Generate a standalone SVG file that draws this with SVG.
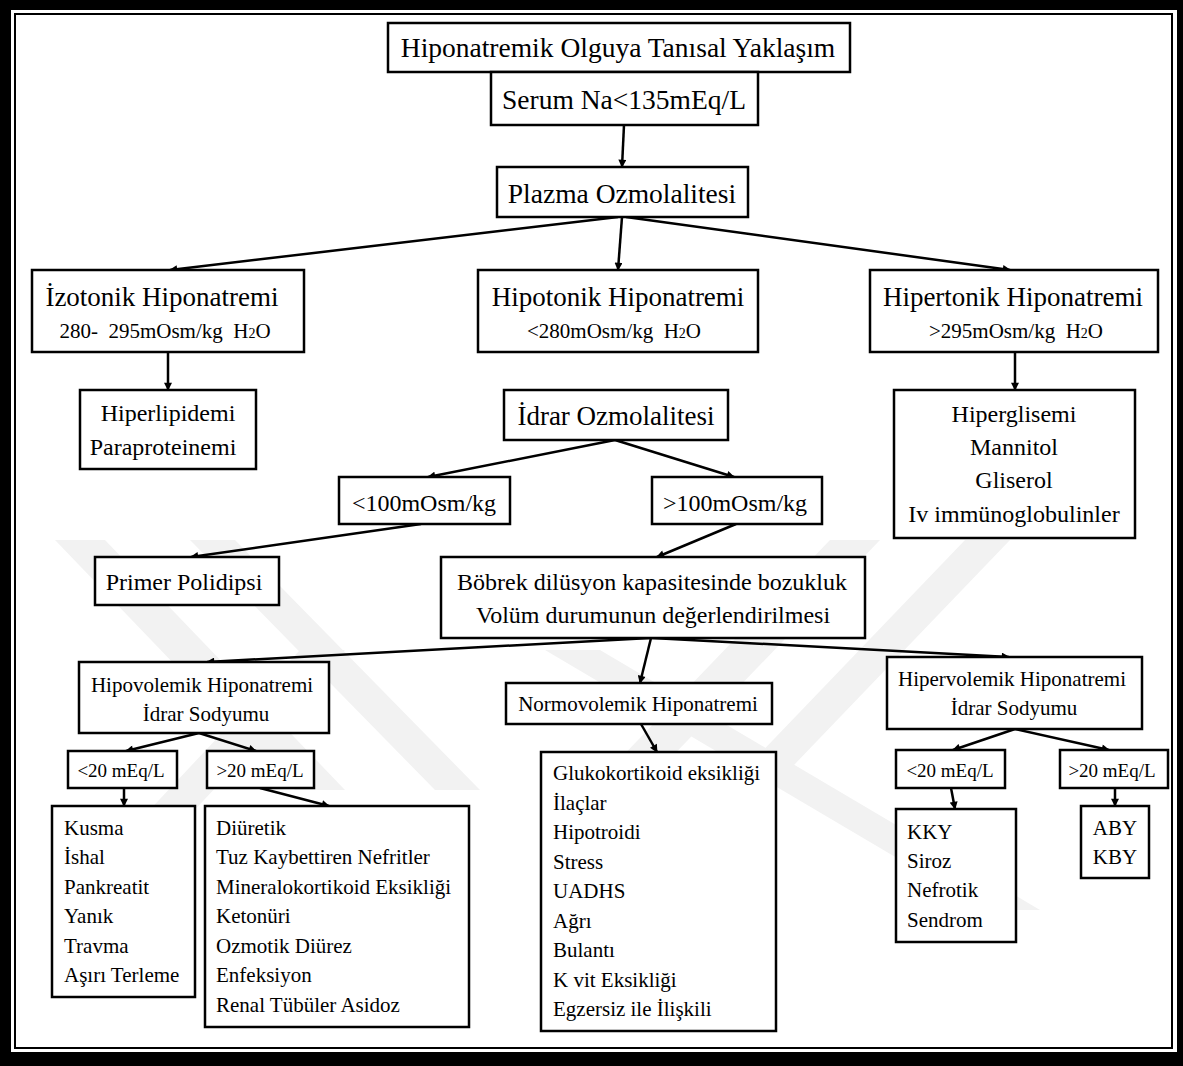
<svg xmlns="http://www.w3.org/2000/svg" width="1183" height="1066" viewBox="0 0 1183 1066">
<defs>
<style>
.box{fill:#fff;stroke:#000;stroke-width:2.5}
.t{font-family:"Liberation Serif","Times New Roman",serif;fill:#000}
.c{text-anchor:middle}
.pre{white-space:pre}
.f28{font-size:27.5px}
.f27{font-size:27px}
.f24{font-size:24px}
.f21{font-size:21px}
.f19{font-size:19px}
.sub{font-size:21px}
.wm{fill:#f2f2f2}
.ed{fill:none;stroke:#000;stroke-width:2.5;marker-end:url(#ah)}
</style>
<marker id="ah" viewBox="0 0 10 10" refX="9" refY="5" markerWidth="9" markerHeight="8" markerUnits="userSpaceOnUse" orient="auto">
<path d="M0,0 L10,5 L0,10 z" fill="#000"/>
</marker>
</defs>
<rect x="0" y="0" width="1183" height="1066" fill="#000"/>
<rect x="11" y="10" width="1166" height="1042" fill="#fff"/>
<rect x="15" y="14" width="1157" height="1034" fill="none" stroke="#000" stroke-width="2"/>
<g id="watermark">
<polygon class="wm" points="55,540 105,540 345,790 295,790"/>
<polygon class="wm" points="190,540 235,540 480,790 435,790"/>
<polygon class="wm" points="830,540 880,540 640,790 590,790"/>
<polygon class="wm" points="965,540 1010,540 770,790 725,790"/>
<polygon class="wm" points="300,650 345,650 110,900 65,900"/>
<polygon class="wm" points="545,650 600,650 1040,910 985,910"/>
</g>
<g id="connectors">
<line class="ed" x1="624" y1="125" x2="622" y2="167"/>
<line class="ed" x1="618" y1="217" x2="170" y2="270"/>
<line class="ed" x1="622" y1="217" x2="618" y2="270"/>
<line class="ed" x1="626" y1="217" x2="1010" y2="270"/>
<line class="ed" x1="168" y1="352" x2="168" y2="390"/>
<line class="ed" x1="1015" y1="352" x2="1015" y2="390"/>
<line class="ed" x1="615" y1="440" x2="428" y2="477"/>
<line class="ed" x1="615" y1="440" x2="734" y2="477"/>
<line class="ed" x1="421" y1="524" x2="191" y2="557"/>
<line class="ed" x1="736" y1="524" x2="657" y2="557"/>
<line class="ed" x1="650" y1="638" x2="207" y2="662"/>
<line class="ed" x1="651" y1="638" x2="640" y2="683"/>
<line class="ed" x1="652" y1="638" x2="1009" y2="657"/>
<line class="ed" x1="199" y1="733" x2="126" y2="751"/>
<line class="ed" x1="199" y1="733" x2="256" y2="751"/>
<line class="ed" x1="124" y1="788" x2="124" y2="806"/>
<line class="ed" x1="260" y1="788" x2="329" y2="806"/>
<line class="ed" x1="641" y1="724" x2="657" y2="752"/>
<line class="ed" x1="1015" y1="729" x2="953" y2="750"/>
<line class="ed" x1="1015" y1="729" x2="1109" y2="750"/>
<line class="ed" x1="951" y1="788" x2="955" y2="809"/>
<line class="ed" x1="1115" y1="788" x2="1115" y2="806"/>
</g>
<g id="n-title"><rect class="box" x="388" y="23" width="462" height="49"/>
<text class="t c f28" x="618" y="57">Hiponatremik Olguya Tanısal Yaklaşım</text></g>
<g id="n-serum"><rect class="box" x="491" y="72" width="267" height="53"/>
<text class="t c f28" x="624" y="109">Serum Na&lt;135mEq/L</text></g>
<g id="n-plazma"><rect class="box" x="497" y="167" width="251" height="50"/>
<text class="t c f28" x="622" y="203">Plazma Ozmolalitesi</text></g>
<g id="n-izotonik"><rect class="box" x="32" y="270" width="272" height="82"/>
<text class="t c f27" x="162" y="306">İzotonik Hiponatremi</text>
<text class="t c sub pre" x="165" y="338">280-  295mOsm/kg  H<tspan font-size="14">2</tspan>O</text></g>
<g id="n-hipotonik"><rect class="box" x="478" y="270" width="280" height="82"/>
<text class="t c f27" x="618" y="306">Hipotonik Hiponatremi</text>
<text class="t c sub pre" x="614" y="338">&lt;280mOsm/kg  H<tspan font-size="14">2</tspan>O</text></g>
<g id="n-hipertonik"><rect class="box" x="870" y="270" width="288" height="82"/>
<text class="t c f27" x="1013" y="306">Hipertonik Hiponatremi</text>
<text class="t c sub pre" x="1016" y="338">&gt;295mOsm/kg  H<tspan font-size="14">2</tspan>O</text></g>
<g id="n-hiperlipidemi"><rect class="box" x="80" y="390" width="176" height="79"/>
<text class="t c f24" x="168" y="421">Hiperlipidemi</text>
<text class="t c f24" x="163" y="455">Paraproteinemi</text></g>
<g id="n-idrar"><rect class="box" x="504" y="390" width="224" height="50"/>
<text class="t c f27" x="616" y="425">İdrar Ozmolalitesi</text></g>
<g id="n-hiperglisemi"><rect class="box" x="894" y="390" width="241" height="148"/>
<text class="t c f24" x="1014" y="422">Hiperglisemi</text>
<text class="t c f24" x="1014" y="455">Mannitol</text>
<text class="t c f24" x="1014" y="488">Gliserol</text>
<text class="t c f24" x="1014" y="522">Iv immünoglobulinler</text></g>
<g id="n-lt100"><rect class="box" x="339" y="477" width="171" height="47"/>
<text class="t c f24" x="424" y="511">&lt;100mOsm/kg</text></g>
<g id="n-gt100"><rect class="box" x="652" y="477" width="170" height="47"/>
<text class="t c f24" x="735" y="511">&gt;100mOsm/kg</text></g>
<g id="n-primer"><rect class="box" x="95" y="557" width="184" height="48"/>
<text class="t c f24" x="184" y="590">Primer Polidipsi</text></g>
<g id="n-bobrek"><rect class="box" x="441" y="557" width="424" height="81"/>
<text class="t c f24" x="652" y="590">Böbrek dilüsyon kapasitesinde bozukluk</text>
<text class="t c f24" x="653" y="623">Volüm durumunun değerlendirilmesi</text></g>
<g id="n-hipovolemik"><rect class="box" x="79" y="662" width="250" height="71"/>
<text class="t c f21" x="202" y="692">Hipovolemik Hiponatremi</text>
<text class="t c f21" x="206" y="721">İdrar Sodyumu</text></g>
<g id="n-normovolemik"><rect class="box" x="506" y="683" width="266" height="41"/>
<text class="t c f21" x="638" y="711">Normovolemik Hiponatremi</text></g>
<g id="n-hipervolemik"><rect class="box" x="887" y="657" width="255" height="72"/>
<text class="t c f21" x="1012" y="686">Hipervolemik Hiponatremi</text>
<text class="t c f21" x="1014" y="715">İdrar Sodyumu</text></g>
<g id="n-lt20a"><rect class="box" x="68" y="751" width="109" height="37"/>
<text class="t c f19" x="121" y="777">&lt;20 mEq/L</text></g>
<g id="n-gt20a"><rect class="box" x="207" y="751" width="107" height="37"/>
<text class="t c f19" x="260" y="777">&gt;20 mEq/L</text></g>
<g id="n-lt20b"><rect class="box" x="896" y="750" width="109" height="38"/>
<text class="t c f19" x="950" y="777">&lt;20 mEq/L</text></g>
<g id="n-gt20b"><rect class="box" x="1060" y="750" width="108" height="38"/>
<text class="t c f19" x="1112" y="777">&gt;20 mEq/L</text></g>
<g id="n-kusma"><rect class="box" x="52" y="806" width="143" height="191"/>
<text class="t f21" x="64" y="835">Kusma</text>
<text class="t f21" x="64" y="864">İshal</text>
<text class="t f21" x="64" y="894">Pankreatit</text>
<text class="t f21" x="64" y="923">Yanık</text>
<text class="t f21" x="64" y="953">Travma</text>
<text class="t f21" x="64" y="982">Aşırı Terleme</text></g>
<g id="n-diuretik"><rect class="box" x="205" y="806" width="264" height="221"/>
<text class="t f21" x="216" y="835">Diüretik</text>
<text class="t f21" x="216" y="864">Tuz Kaybettiren Nefritler</text>
<text class="t f21" x="216" y="894">Mineralokortikoid Eksikliği</text>
<text class="t f21" x="216" y="923">Ketonüri</text>
<text class="t f21" x="216" y="953">Ozmotik Diürez</text>
<text class="t f21" x="216" y="982">Enfeksiyon</text>
<text class="t f21" x="216" y="1012">Renal Tübüler Asidoz</text></g>
<g id="n-gluko"><rect class="box" x="541" y="752" width="235" height="279"/>
<text class="t f21" x="553" y="780">Glukokortikoid eksikliği</text>
<text class="t f21" x="553" y="810">İlaçlar</text>
<text class="t f21" x="553" y="839">Hipotroidi</text>
<text class="t f21" x="553" y="869">Stress</text>
<text class="t f21" x="553" y="898">UADHS</text>
<text class="t f21" x="553" y="928">Ağrı</text>
<text class="t f21" x="553" y="957">Bulantı</text>
<text class="t f21" x="553" y="987">K vit Eksikliği</text>
<text class="t f21" x="553" y="1016">Egzersiz ile İlişkili</text></g>
<g id="n-kky"><rect class="box" x="896" y="809" width="120" height="133"/>
<text class="t f21" x="907" y="839">KKY</text>
<text class="t f21" x="907" y="868">Siroz</text>
<text class="t f21" x="907" y="897">Nefrotik</text>
<text class="t f21" x="907" y="927">Sendrom</text></g>
<g id="n-aby"><rect class="box" x="1081" y="806" width="68" height="72"/>
<text class="t c f21" x="1115" y="835">ABY</text>
<text class="t c f21" x="1115" y="864">KBY</text></g>
</svg>
